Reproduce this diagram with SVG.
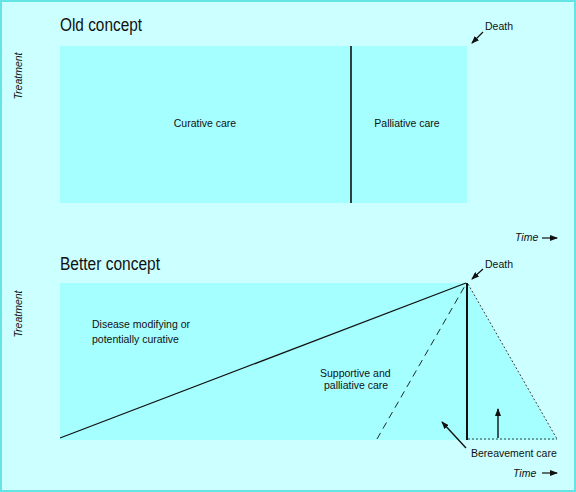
<svg xmlns="http://www.w3.org/2000/svg" width="576" height="492" viewBox="0 0 576 492">
<style>
text{font-family:"Liberation Sans",Arial,sans-serif;fill:#111}
.title{font-size:18px}
.lbl{font-size:10.5px}
.ax{font-size:10.5px;font-style:italic}
.area{fill:#a6ffff;stroke:none}
.ln{stroke:#111;fill:none}
</style>
<defs>
<marker id="ah" markerWidth="8" markerHeight="6" refX="7" refY="3" orient="auto" markerUnits="userSpaceOnUse">
<path d="M0,0 L8,3 L0,6 z" fill="#111"/>
</marker>
</defs>
<rect x="1" y="1" width="574" height="490" fill="#ccffff" stroke="#66e3e3" stroke-width="2"/>
<g id="old-concept">
<text class="title" x="60" y="31" textLength="82" lengthAdjust="spacingAndGlyphs">Old concept</text>
<text class="ax" transform="translate(22,76) rotate(-90)" text-anchor="middle">Treatment</text>
<rect class="area" x="60" y="46" width="407" height="157"/>
<line class="ln" x1="351" y1="46" x2="351" y2="203" stroke-width="1.6" stroke="#333"/>
<text class="lbl" x="205" y="127" text-anchor="middle">Curative care</text>
<text class="lbl" x="407" y="127" text-anchor="middle">Palliative care</text>
<text class="lbl" x="485" y="30">Death</text>
<text class="ax" x="515" y="241">Time</text>
</g>
<g id="better-concept">
<text class="title" x="60" y="270" textLength="100" lengthAdjust="spacingAndGlyphs">Better concept</text>
<text class="ax" transform="translate(22,314) rotate(-90)" text-anchor="middle">Treatment</text>
<rect class="area" x="60" y="283" width="407" height="157"/>
<polygon class="area" points="467,283 557,440 467,440"/>
<text class="lbl" x="92" y="328">Disease modifying or</text>
<text class="lbl" x="92" y="343">potentially curative</text>
<text class="lbl" x="320" y="377">Supportive and</text>
<text class="lbl" x="324" y="389">palliative care</text>
<text class="lbl" x="485" y="268">Death</text>
<text class="lbl" x="471" y="457">Bereavement care</text>
<text class="ax" x="513" y="477">Time</text>
</g>
<g id="connectors">
<line class="ln" x1="483" y1="32" x2="472" y2="43" stroke-width="1.2" marker-end="url(#ah)"/>
<line class="ln" x1="542" y1="238" x2="557" y2="238" stroke-width="1.2" marker-end="url(#ah)"/>
<line class="ln" x1="60" y1="438" x2="466" y2="283" stroke-width="1.3"/>
<line class="ln" x1="377" y1="439" x2="466" y2="284" stroke-width="0.9" stroke-dasharray="7,5"/>
<line class="ln" x1="467" y1="283" x2="467" y2="440" stroke-width="2"/>
<line class="ln" x1="468" y1="284" x2="557" y2="439" stroke-width="0.8" stroke-dasharray="2,2"/>
<line class="ln" x1="468" y1="439" x2="557" y2="439" stroke-width="0.8" stroke-dasharray="2,2"/>
<line class="ln" x1="483" y1="269" x2="472" y2="279" stroke-width="1.2" marker-end="url(#ah)"/>
<line class="ln" x1="466" y1="448" x2="442" y2="422" stroke-width="1.4" marker-end="url(#ah)"/>
<line class="ln" x1="498" y1="438" x2="498" y2="409" stroke-width="1.4" marker-end="url(#ah)"/>
<line class="ln" x1="542" y1="473" x2="557" y2="473" stroke-width="1.2" marker-end="url(#ah)"/>
</g>
</svg>
